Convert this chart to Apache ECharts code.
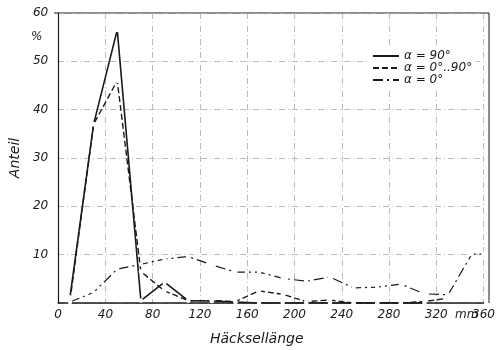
<!DOCTYPE html>
<html>
<head>
<meta charset="utf-8">
<script src="https://cdn.jsdelivr.net/npm/echarts@6/dist/echarts.min.js"></script>
<style>
  html, body { margin: 0; padding: 0; background: #fff; }
  #chart { width: 498px; height: 350px; }
</style>
</head>
<body>
<div id="chart"></div>
<script>
// Häcksellänge in mm (Klassenmitten)
const laenge = [10, 30, 50, 70, 90, 110, 130, 150, 170, 190, 210, 230, 250, 270, 290, 310, 330, 350, 360];
// Anteil in %
const alpha90 = [1.2, 37, 56.5, 0.5, 4.3, 0.5, 0.4, 0.2, 0, 0, 0, 0, 0, 0, 0, 0, null, null, null];
const alpha0bis90 = [0.5, 37, 46, 6.5, 2.5, 0.5, 0.5, 0.3, 2.5, 1.8, 0.3, 0.6, 0, 0, 0, 0.3, 1.0, null, null];
const alpha0 = [0.2, 2.2, 7, 8, 9.1, 9.6, 7.9, 6.4, 6.4, 5.1, 4.5, 5.4, 3.1, 3.3, 3.9, 1.9, 1.7, 10.1, 10.1];
const xTicks = [0, 40, 80, 120, 160, 200, 240, 280, 320, 360];
const yTicks = [10, 20, 30, 40, 50, 60];

const FONT = 'DejaVu Sans';
const ink = '#1a1a1a';

const pairs = (vals) => laenge.map((x, i) => [x, vals[i]]).filter(p => p[1] !== null);

const chartDom = document.getElementById('chart');
const myChart = echarts.init(chartDom);

const lineSeries = (name, vals, type, width) => ({
  name: name,
  type: 'line',
  data: pairs(vals),
  symbol: 'emptyCircle',
  symbolSize: 2.5,
  showSymbol: true,
  lineStyle: { color: ink, width: width, type: type },
  itemStyle: { color: '#fff', borderColor: ink, borderWidth: 0.6 },
  animation: false
});

const option = {
  backgroundColor: '#fff',
  grid: { left: 54, right: 9, top: 13, bottom: 47 },
  legend: {
    left: 368,
    top: 48,
    orient: 'vertical',
    itemGap: 0,
    itemWidth: 26,
    itemHeight: 10,
    backgroundColor: '#fff',
    padding: [2, 4],
    itemStyle: { opacity: 0 },
    textStyle: { fontFamily: FONT, fontStyle: 'italic', fontSize: 12, color: ink },
    data: ['α = 90°', 'α = 0°..90°', 'α = 0°']
  },
  xAxis: {
    type: 'value',
    min: 0,
    max: 360,
    interval: 40,
    axisLine: { show: true, lineStyle: { color: ink, width: 1.5 } },
    axisTick: { show: false },
    axisLabel: {
      fontFamily: FONT, fontStyle: 'italic', fontSize: 12, color: ink, margin: 6,
      formatter: (v) => xTicks.includes(v) ? String(v) : ''
    },
    splitLine: { show: true, lineStyle: { color: '#aaa', width: 0.8, type: [6, 3, 1, 3] } }
  },
  yAxis: {
    type: 'value',
    min: 0,
    max: 60,
    interval: 10,
    name: 'Anteil',
    nameLocation: 'middle',
    nameGap: 34,
    nameTextStyle: { fontFamily: FONT, fontStyle: 'italic', fontSize: 14, color: ink },
    axisLine: { show: true, lineStyle: { color: ink, width: 1.2 } },
    axisTick: { show: false },
    axisLabel: {
      fontFamily: FONT, fontStyle: 'italic', fontSize: 12, color: ink, margin: 10,
      formatter: (v) => yTicks.includes(v) ? String(v) : ''
    },
    splitLine: { show: true, lineStyle: { color: '#aaa', width: 0.8, type: [6, 3, 1, 3] } }
  },
  graphic: [
    {
      type: 'text', left: 31, top: 31,
      style: { text: '%', font: 'italic 12px "DejaVu Sans"', fill: ink }
    },
    {
      type: 'text', left: 455, top: 309,
      style: { text: 'mm', font: 'italic 12px "DejaVu Sans"', fill: ink }
    },
    {
      type: 'text', left: 210, top: 332,
      style: { text: 'Häcksellänge', font: 'italic 14px "DejaVu Sans"', fill: ink }
    },
    {
      type: 'line', shape: { x1: 54, y1: 13, x2: 489, y2: 13 },
      style: { stroke: ink, lineWidth: 1 }
    },
    {
      type: 'line', shape: { x1: 489, y1: 13, x2: 489, y2: 303 },
      style: { stroke: ink, lineWidth: 1 }
    }
  ],
  series: [
    lineSeries('α = 90°', alpha90, 'solid', 1.6),
    lineSeries('α = 0°..90°', alpha0bis90, [6, 3], 1.4),
    lineSeries('α = 0°', alpha0, [10, 4, 2, 4], 1.2)
  ]
};

myChart.setOption(option);
</script>
</body>
</html>
